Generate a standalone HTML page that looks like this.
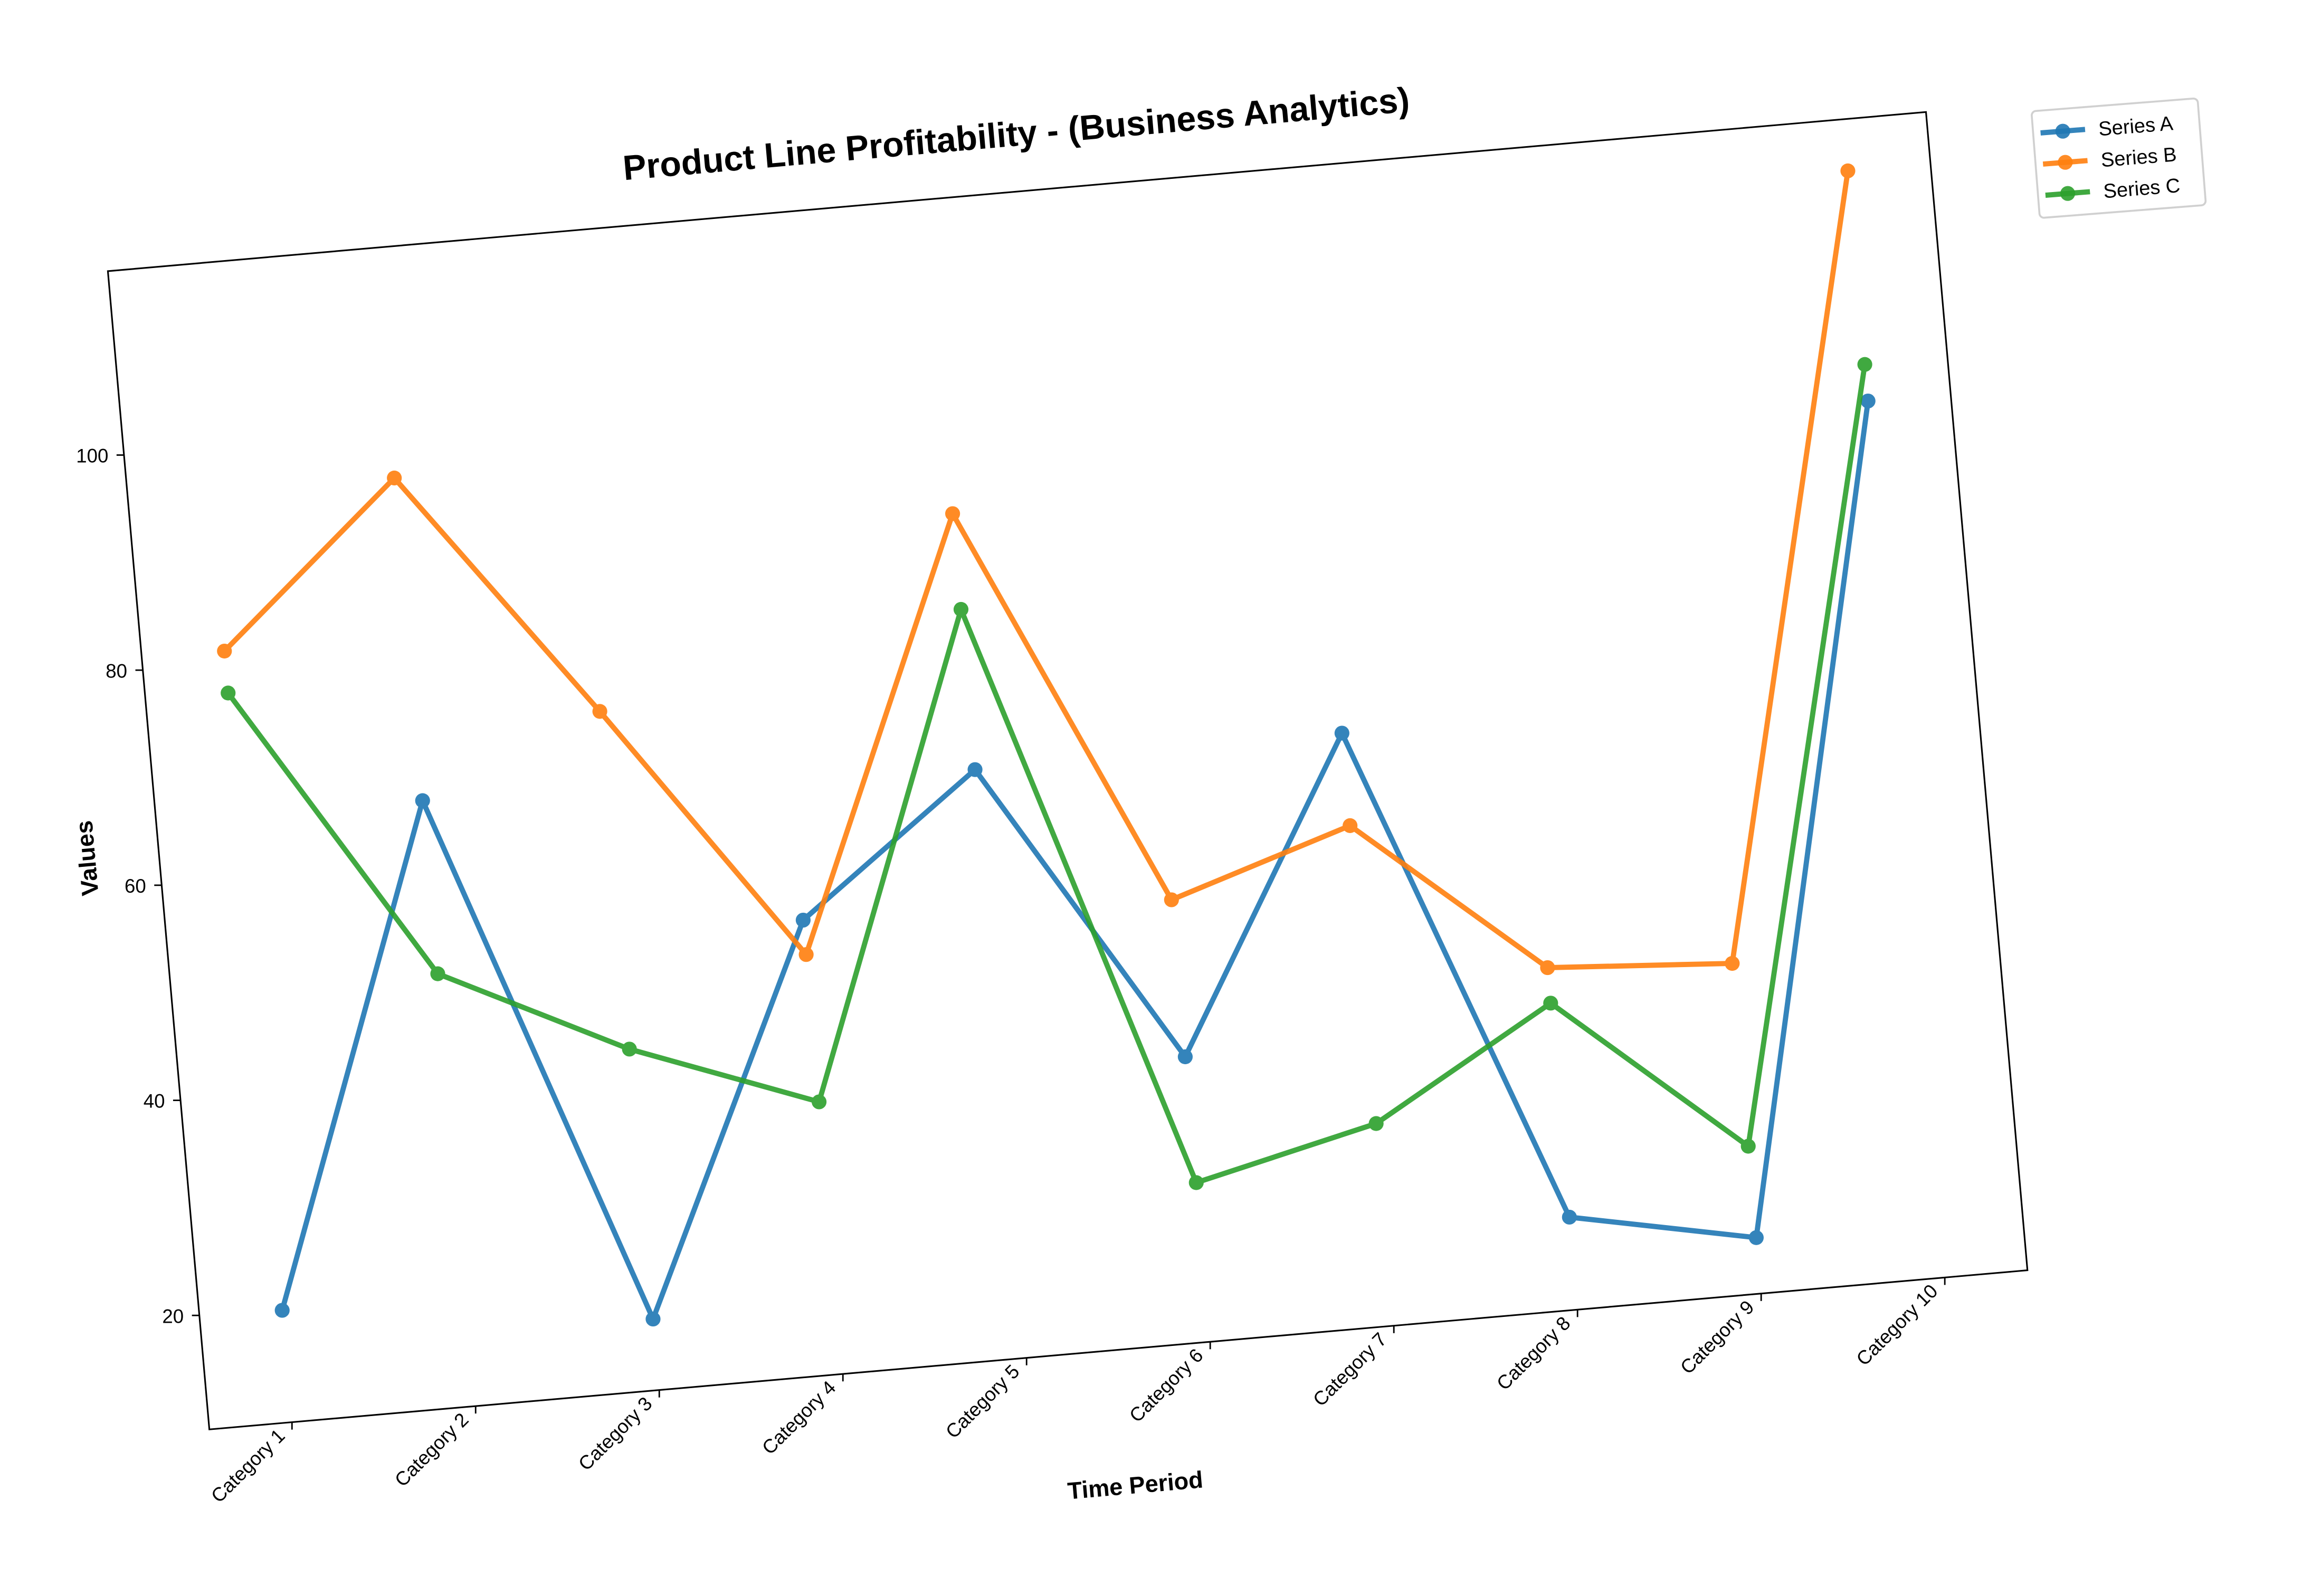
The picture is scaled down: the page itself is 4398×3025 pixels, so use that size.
<!DOCTYPE html>
<html><head><meta charset="utf-8"><style>
html,body{margin:0;padding:0;background:#fff;}
svg{display:block;font-family:"Liberation Sans",Arial,sans-serif;}
</style></head><body>
<svg id="chart" width="4398" height="3025" viewBox="0 0 1560 1073" xmlns="http://www.w3.org/2000/svg">
<rect x="0" y="0" width="1560" height="1073" fill="#fff"/>
<text x="683" y="98" text-anchor="middle" font-size="23.5" font-weight="bold" transform="rotate(-5 683 90)">Product Line Profitability - (Business Analytics)</text>
<text x="763" y="1004" text-anchor="middle" font-size="16" font-weight="bold" transform="rotate(-5 763 998)">Time Period</text>
<text x="58" y="583" text-anchor="middle" font-size="16" font-weight="bold" transform="rotate(-95 58 577)">Values</text>
<g id="plot"></g>
<g transform="rotate(-4.5 1428 106)">
  <rect x="1368" y="70" width="112" height="72" rx="3" fill="#fff" stroke="#d0d0d0" stroke-width="1.3"/>
  <g>
    <line x1="1373" y1="85" x2="1403" y2="85" stroke="#1f77b4" stroke-width="3.5" opacity="0.9"/>
    <circle cx="1388" cy="85" r="5" fill="#1f77b4" opacity="0.9"/>
    <text x="1412" y="90" font-size="13.5">Series A</text>
  </g>
  <g>
    <line x1="1373" y1="106" x2="1403" y2="106" stroke="#ff7f0e" stroke-width="3.5" opacity="0.9"/>
    <circle cx="1388" cy="106" r="5" fill="#ff7f0e" opacity="0.9"/>
    <text x="1412" y="111" font-size="13.5">Series B</text>
  </g>
  <g>
    <line x1="1373" y1="127" x2="1403" y2="127" stroke="#2ca02c" stroke-width="3.5" opacity="0.9"/>
    <circle cx="1388" cy="127" r="5" fill="#2ca02c" opacity="0.9"/>
    <text x="1412" y="132" font-size="13.5">Series C</text>
  </g>
</g>
</svg>
<script>
const categories = ["Category 1","Category 2","Category 3","Category 4","Category 5","Category 6","Category 7","Category 8","Category 9","Category 10"];
const seriesA = [19.8, 65.7, 16.0, 51.6, 64.1, 35.9, 64.5, 18.0, 14.6, 90.9];
const seriesB = [81.1, 95.7, 72.5, 48.4, 87.9, 50.5, 55.9, 41.2, 40.1, 112.3];
const seriesC = [77.2, 49.6, 41.1, 34.7, 79.0, 24.2, 28.2, 37.9, 23.1, 94.3];
const yTicks = [20, 40, 60, 80, 100];
const seriesNames = ["Series A","Series B","Series C"];

const NS = "http://www.w3.org/2000/svg";
const BL = [140.7, 961], E1 = [1222, -107], E2 = [-68.2, -778.7];
const xMin = -0.45, xMax = 9.45, yMin = 9.4, yMax = 117.1;
function map(xi, yv) {
  const u = (xi - xMin) / (xMax - xMin);
  const v = (yv - yMin) / (yMax - yMin);
  return [BL[0] + u * E1[0] + v * E2[0], BL[1] + u * E1[1] + v * E2[1]];
}
function mk(tag, attrs, parent) {
  const el = document.createElementNS(NS, tag);
  for (const k in attrs) el.setAttribute(k, attrs[k]);
  parent.appendChild(el);
  return el;
}
const plot = document.getElementById("plot");
const c0 = map(xMin, yMin), c1 = map(xMax, yMin), c2 = map(xMax, yMax), c3 = map(xMin, yMax);
const frame = mk("polygon", {points: [c0, c1, c2, c3].map(p => p.join(",")).join(" "), fill: "none", stroke: "#000", "stroke-width": 1.1}, plot);



categories.forEach((c, i) => {
  const p = map(i, yMin);
  const t = mk("line", {x1: p[0], y1: p[1], x2: p[0], y2: p[1] + 5, stroke: "#000", "stroke-width": 1}, plot);
  
  
  const lx = p[0] - 4, ly = p[1] + 10;
  const tx = mk("text", {x: lx, y: ly, "text-anchor": "end", "font-size": 13, transform: `rotate(-45 ${lx} ${ly})`}, plot);
  tx.textContent = c;
  
  
});
yTicks.forEach(v => {
  const p = map(xMin, v);
  const t = mk("line", {x1: p[0], y1: p[1], x2: p[0] - 5, y2: p[1], stroke: "#000", "stroke-width": 1}, plot);
  
  
  const tx = mk("text", {x: p[0] - 10.5, y: p[1] + 5, "text-anchor": "end", "font-size": 13}, plot);
  tx.textContent = String(v);
  
  
});
const allSeries = [seriesA, seriesB, seriesC];
const colors = ["#1f77b4", "#ff7f0e", "#2ca02c"];
allSeries.forEach((s, si) => {
  const g = mk("g", {opacity: 0.9}, plot);
  
  
  const pts = s.map((v, i) => map(i, v));
  const line = mk("polyline", {points: pts.map(p => p.join(",")).join(" "), fill: "none", stroke: colors[si], "stroke-width": 3.5, "stroke-linejoin": "round"}, g);
  
  
  pts.forEach(p => {
    const c = mk("circle", {cx: p[0], cy: p[1], r: 5, fill: colors[si]}, g);
    
    
  });
});
</script>
</body></html>
